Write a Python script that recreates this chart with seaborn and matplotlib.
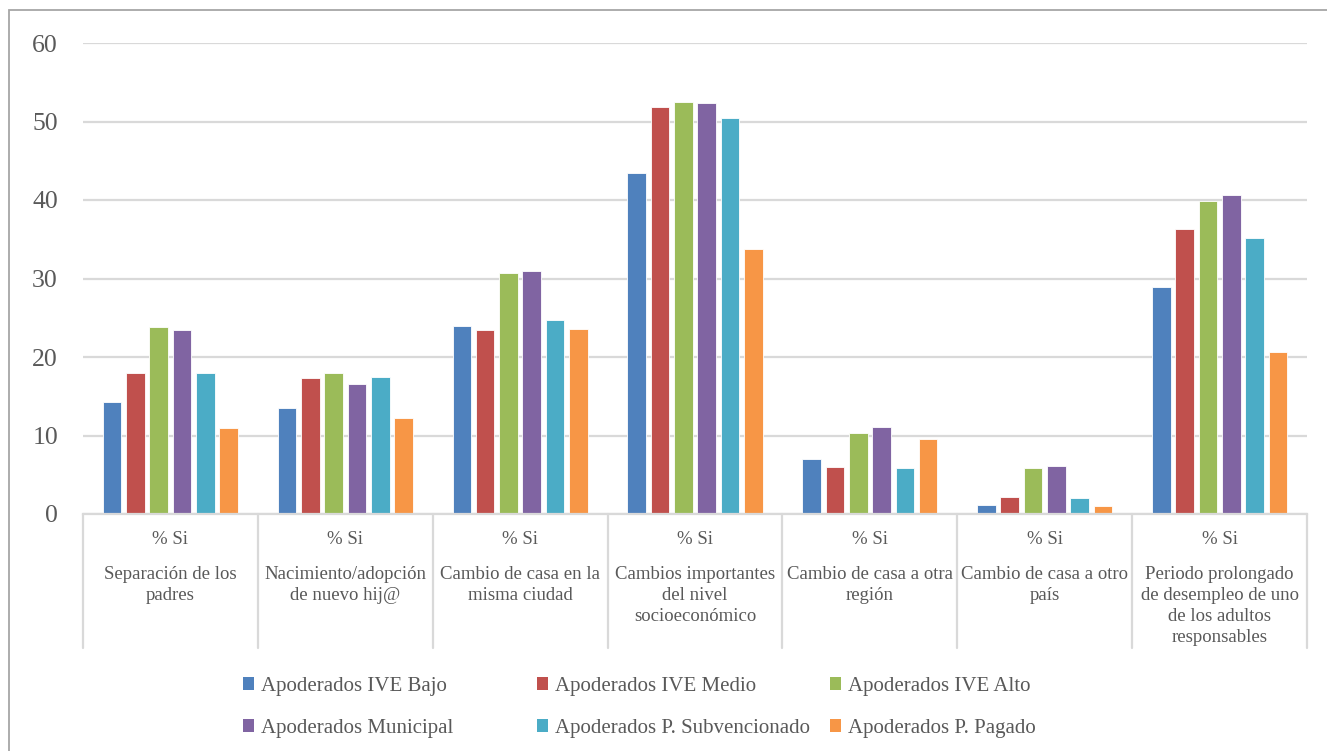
import matplotlib
matplotlib.use("Agg")
import matplotlib.pyplot as plt
import seaborn as sns
import pandas as pd
import numpy as np
from matplotlib.patches import Patch, Rectangle

# ---------------- data ----------------
categories = [
    "Separación de los\npadres",
    "Nacimiento/adopción\nde nuevo hij@",
    "Cambio de casa en la\nmisma ciudad",
    "Cambios importantes\ndel nivel\nsocioeconómico",
    "Cambio de casa a otra\nregión",
    "Cambio de casa a otro\npaís",
    "Periodo prolongado\nde desempleo de uno\nde los adultos\nresponsables",
]
sub_label = "% Si"
series_names = [
    "Apoderados IVE Bajo",
    "Apoderados IVE Medio",
    "Apoderados IVE Alto",
    "Apoderados Municipal",
    "Apoderados P. Subvencionado",
    "Apoderados P. Pagado",
]
ive_bajo = [14.3, 13.5, 24.0, 43.5, 7.0, 1.2, 28.9]
ive_medio = [17.9, 17.3, 23.5, 51.9, 6.0, 2.2, 36.3]
ive_alto = [23.8, 17.9, 30.7, 52.5, 10.3, 5.8, 39.9]
municipal = [23.5, 16.6, 31.0, 52.4, 11.1, 6.1, 40.6]
subvencionado = [18.0, 17.5, 24.7, 50.5, 5.9, 2.1, 35.2]
pagado = [11.0, 12.2, 23.6, 33.8, 9.5, 1.0, 20.7]
y_ticks = [0, 10, 20, 30, 40, 50, 60]

colors = ["#4F81BD", "#C0504D", "#9BBB59", "#8064A2", "#4BACC6", "#F79646"]

all_series = [ive_bajo, ive_medio, ive_alto, municipal, subvencionado, pagado]
rows = []
for name, vals in zip(series_names, all_series):
    for cat, v in zip(categories, vals):
        rows.append({"cat": cat, "serie": name, "val": v})
df = pd.DataFrame(rows)

# ---------------- style ----------------
sns.set_style("white")
plt.rcParams["font.family"] = ["Liberation Serif", "DejaVu Serif"]
text_color = "#595959"
grid_color = "#d9d9d9"

W, H = 1327, 751
fig = plt.figure(figsize=(W / 100, H / 100), dpi=100)
fig.patch.set_facecolor("white")

left, right, top, bottom = 83, 1307, 43, 514
ax = fig.add_axes([left / W, 1 - bottom / H, (right - left) / W, (bottom - top) / H])

sns.barplot(data=df, x="cat", y="val", hue="serie", hue_order=series_names,
            order=categories, palette=colors, saturation=1, width=0.8, gap=0.2,
            edgecolor="white", linewidth=0.6, legend=False, ax=ax, errorbar=None)

ax.set_xlim(-0.5, len(categories) - 0.5)
ax.set_ylim(0, 60)
ax.set_yticks(y_ticks)
ax.set_yticklabels([str(t) for t in y_ticks], fontsize=18.5, color=text_color)
ax.set_xticks([])
ax.set_xlabel("")
ax.set_ylabel("")
ax.tick_params(axis="y", length=0, pad=18)
ax.yaxis.grid(True, color=grid_color, linewidth=1.6)
ax.set_axisbelow(True)
for s in ["left", "right", "top"]:
    ax.spines[s].set_visible(False)
ax.spines["bottom"].set_color(grid_color)
ax.spines["bottom"].set_linewidth(1.6)

# category separators and labels
trans = ax.get_xaxis_transform()
ax_h = bottom - top
for xb in np.arange(-0.5, len(categories), 1.0):
    ax.plot([xb, xb], [0, -(648 - bottom) / ax_h], transform=trans,
            clip_on=False, color=grid_color, lw=1.6)
for i, cat in enumerate(categories):
    ax.text(i, -(539 - bottom) / ax_h, sub_label, transform=trans, ha="center",
            va="center", fontsize=13.5, color=text_color)
    ax.text(i, -(566 - bottom) / ax_h, cat, transform=trans, ha="center",
            va="top", fontsize=13.5, color=text_color, linespacing=1.3)

# outer border (only left and top visible)
fig.patches.append(Rectangle((9 / W, -0.1), 2, 1 - 10 / H + 0.1,
                             transform=fig.transFigure, fill=False,
                             edgecolor="#a6a6a6", lw=1.3))

# legend: three columns of two entries
col_x = [243, 537, 830]
for c in range(3):
    idx = [c, c + 3]
    handles = [Patch(facecolor=colors[k], edgecolor="none") for k in idx]
    labels = [series_names[k] for k in idx]
    leg = fig.legend(handles, labels, loc="upper left",
                     bbox_to_anchor=(col_x[c] / W, 1 - 677 / H),
                     frameon=False, fontsize=15, handlelength=0.55,
                     handleheight=0.55, handletextpad=0.3, borderpad=0,
                     borderaxespad=0, labelspacing=1.1)
    for t in leg.get_texts():
        t.set_color(text_color)

fig.savefig("out.png", dpi=100, facecolor="white")
